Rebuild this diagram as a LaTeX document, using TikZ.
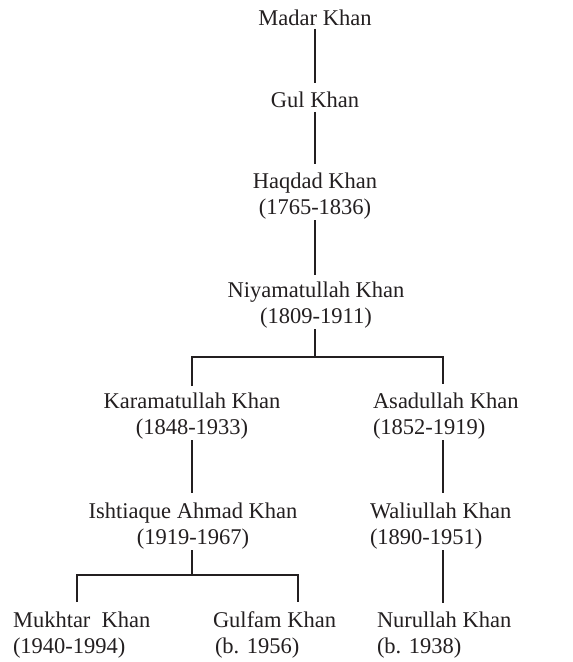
\documentclass[tikz,border=0pt]{standalone}
\usepackage{fontspec}
\setmainfont{Liberation Serif}
\definecolor{ink}{RGB}{35,31,32}
\begin{document}
\begin{tikzpicture}[x=1pt,y=-1pt,
  person/.style={inner sep=0pt, outer sep=0pt, font=\fontsize{22.5}{26}\selectfont, text=ink, align=center},
  lperson/.style={person, align=left},
  conn/.style={draw=ink, line width=1.1pt}]
\useasboundingbox (0,0) rectangle (573,662);
% people
\node[person, anchor=north] (madar) at (315,10) {Madar Khan};
\node[person, anchor=north] (gul) at (315,92) {Gul Khan};
\node[person, anchor=north] (haq) at (315,173) {Haqdad Khan\\(1765-1836)};
\node[person, anchor=north] (niy) at (316,282) {Niyamatullah Khan\\(1809-1911)};
\node[person, anchor=north] (kar) at (192,393) {Karamatullah Khan\\(1848-1933)};
\node[lperson, anchor=north west] (asad) at (373,393) {Asadullah Khan\\(1852-1919)};
\node[person, anchor=north] (ish) at (193,503) {Ishtiaque Ahmad Khan\\(1919-1967)};
\node[lperson, anchor=north west] (wali) at (370,503) {Waliullah Khan\\(1890-1951)};
\node[lperson, anchor=north west] (mukh) at (13,612) {Mukhtar\ \ Khan\\(1940-1994)};
\node[lperson, anchor=north west] (gulf) at (213,612) {Gulfam Khan\\\hspace{2pt}(b. 1956)};
\node[lperson, anchor=north west] (nur) at (377,612) {Nurullah Khan\\(b. 1938)};
% junctions
\coordinate (b1m) at (315,357);
\coordinate (b1l) at (192,357);
\coordinate (b1r) at (443,357);
\coordinate (b2m) at (192,575);
\coordinate (b2l) at (77,575);
\coordinate (b2r) at (298,575);
% connectors
\draw[conn, shorten <=3pt, shorten >=9pt] (madar.south -| b1m) -- (gul.north -| b1m);
\draw[conn, shorten <=4pt, shorten >=9pt] (gul.south -| b1m) -- (haq.north -| b1m);
\draw[conn, shorten <=1pt, shorten >=7pt] (haq.south -| b1m) -- (niy.north -| b1m);
\draw[conn, shorten <=1pt] (niy.south -| b1m) -- (b1m);
\draw[conn, shorten <=7pt, shorten >=9pt] (kar.north -| b1l) -- (b1l) -- (b1r) -- (asad.north -| b1r);
\draw[conn, shorten <=1pt, shorten >=10pt] (kar.south -| b1l) -- (ish.north -| b1l);
\draw[conn, shorten <=1pt, shorten >=10pt] (asad.south -| b1r) -- (wali.north -| b1r);
\draw[conn, shorten <=1pt] (ish.south -| b2m) -- (b2m);
\draw[conn, shorten <=10pt, shorten >=10pt] (mukh.north -| b2l) -- (b2l) -- (b2r) -- (gulf.north -| b2r);
\draw[conn, shorten <=1pt, shorten >=9pt] (wali.south -| b1r) -- (nur.north -| b1r);
\end{tikzpicture}
\end{document}
